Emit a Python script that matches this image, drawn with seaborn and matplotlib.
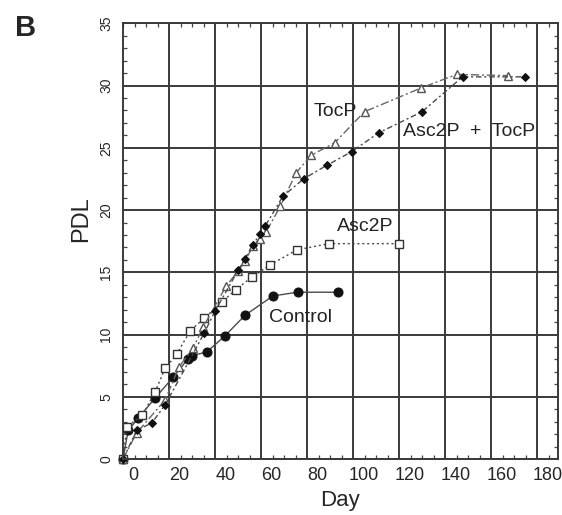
import numpy as np
import matplotlib
matplotlib.use('Agg')
import matplotlib.pyplot as plt
import seaborn as sns

# (grid-aligned day, PDL)
control_day = [0, 2.2, 6.7, 13.9, 21.9, 28.0, 29.9, 36.4, 44.3, 53.0, 65.1, 75.8, 93.3]
control_pdl = [0, 2.3, 3.3, 4.9, 6.6, 8.0, 8.3, 8.6, 9.9, 11.55, 13.1, 13.4, 13.4]

asc_day = [0, 1.6, 8.4, 13.9, 18.3, 23.3, 29.1, 35.2, 42.9, 48.9, 55.9, 63.9, 75.5, 89.4, 120.0]
asc_pdl = [0, 2.6, 3.5, 5.4, 7.3, 8.4, 10.3, 11.3, 12.6, 13.6, 14.6, 15.6, 16.8, 17.3, 17.3]

toc_day = [0, 5.9, 18.3, 24.3, 30.4, 34.8, 44.8, 50.0, 53.0, 56.4, 59.3, 62.0,
           68.3, 75.2, 81.7, 91.9, 104.9, 129.4, 145.0, 167.4]
toc_pdl = [0, 2.1, 4.75, 7.4, 8.9, 10.6, 13.9, 15.1, 15.9, 17.1, 17.7, 18.2,
           20.3, 23.0, 24.4, 25.4, 27.9, 29.8, 30.9, 30.8]

both_day = [0, 5.9, 12.5, 18.3, 35.2, 40.0, 50.1, 53.0, 56.4, 59.6, 61.7, 69.4,
            78.4, 88.6, 99.4, 111.0, 129.9, 147.5, 174.8]
both_pdl = [0, 2.3, 2.9, 4.35, 10.1, 11.9, 15.2, 16.1, 17.2, 18.1, 18.7, 21.1,
            22.5, 23.6, 24.7, 26.2, 27.9, 30.7, 30.7]

x_labels = [0, 20, 40, 60, 80, 100, 120, 140, 160, 180]
label_shift = 4.5  # printed labels sit to the right of the grid lines

sns.set_style('white')
plt.rcParams['font.family'] = ['Liberation Sans Narrow', 'Liberation Sans', 'DejaVu Sans']

fig = plt.figure(figsize=(5.62, 5.15), dpi=100)
ax = fig.add_axes([0.219, 0.1087, 0.774, 0.846])

line_col = '#4a4a4a'
sns.lineplot(x=control_day, y=control_pdl, ax=ax, color=line_col, lw=1.0, linestyle='-',
             marker='o', markersize=6.5, markerfacecolor='#111111', markeredgecolor='#111111')
sns.lineplot(x=asc_day, y=asc_pdl, ax=ax, color=line_col, lw=1.0, linestyle=(0, (1.5, 2)),
             marker='s', markersize=5.5, markerfacecolor='white', markeredgecolor='#333333',
             markeredgewidth=1.0)
sns.lineplot(x=toc_day, y=toc_pdl, ax=ax, color='#666666', lw=1.0, linestyle=(0, (6, 2, 1.5, 2)),
             marker='^', markersize=5.5, markerfacecolor='white', markeredgecolor='#555555',
             markeredgewidth=1.0)
sns.lineplot(x=both_day, y=both_pdl, ax=ax, color=line_col, lw=1.0, linestyle=(0, (4, 2, 1.5, 2)),
             marker='D', markersize=4.2, markerfacecolor='#111111', markeredgecolor='#111111')
for ln in ax.lines:
    ln.set_clip_on(False)

ax.set_xlim(0, 189)
ax.set_ylim(0, 35)

ax.set_xticks(np.arange(20, 181, 20))
ax.set_xticks(np.arange(0, 190, 5), minor=True)
ax.set_yticks(np.arange(0, 36, 5))
ax.set_yticks(np.arange(0, 36, 1), minor=True)
ax.tick_params(axis='x', which='major', labelbottom=False, length=0)
ax.tick_params(axis='both', which='minor', direction='in', length=3, width=0.9,
               color='#444444', top=True, bottom=True, left=True, right=True)
ax.tick_params(axis='y', which='major', length=0, labelsize=10, pad=7, labelrotation=90)
for t in ax.get_yticklabels():
    t.set_va('center')
ax.grid(True, which='major', color='#3a3a3a', lw=1.4)
for s in ax.spines.values():
    s.set_color('#3a3a3a')
    s.set_linewidth(1.4)

sec = ax.secondary_xaxis('bottom', functions=(lambda v: v - label_shift, lambda v: v + label_shift))
sec.set_xticks(x_labels)
sec.tick_params(length=0, labelsize=13, pad=6)
sec.spines['bottom'].set_visible(False)

ax.set_xlabel('')
ax.set_ylabel('')
fig.text(0.605, 0.028, 'Day', fontsize=16, ha='center', va='center', family=['Liberation Sans', 'DejaVu Sans'])
fig.text(0.145, 0.575, 'PDL', fontsize=17, rotation=90, ha='center', va='center',
         family=['Liberation Sans', 'DejaVu Sans'])
fig.text(0.027, 0.945, 'B', fontsize=21, fontweight='bold', ha='left', va='center',
         family=['Liberation Sans', 'DejaVu Sans'])

lab = dict(fontsize=14, color='#222222', va='center')
ax.text(101.5, 27.9, 'TocP', ha='right', **lab)
ax.text(121.5, 26.3, 'Asc2P  +  TocP', ha='left', **lab)
ax.text(105, 18.7, 'Asc2P', ha='center', **lab)
ax.text(77, 11.4, 'Control', ha='center', **lab)

fig.savefig('out.png', dpi=100)
